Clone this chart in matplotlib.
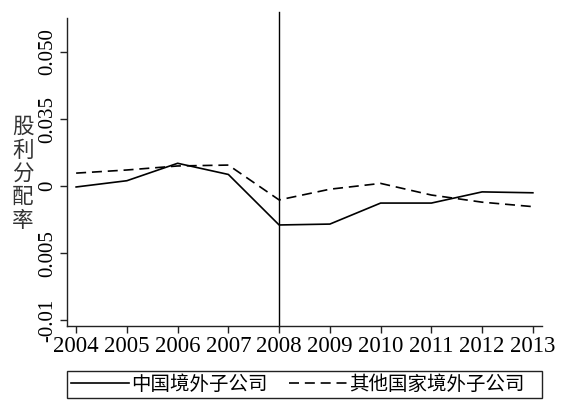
import matplotlib
matplotlib.use("Agg")
import matplotlib.pyplot as plt
from matplotlib.patches import Rectangle

plt.rcParams['font.family'] = ['Liberation Serif', 'Noto Sans CJK SC', 'DejaVu Sans']

years = [2004, 2005, 2006, 2007, 2008, 2009, 2010, 2011, 2012, 2013]
china = [0.0198, 0.0212, 0.0251, 0.0226, 0.0113, 0.0115, 0.0162, 0.0162, 0.0187, 0.0185]
other = [0.0229, 0.0236, 0.0245, 0.0247, 0.0169, 0.0193, 0.0206, 0.0180, 0.0164, 0.0154]

ytick_pos = [0.05, 0.035, 0.02, 0.005, -0.01]
ytick_labels = ['0.050', '0.035', '0', '0.005', '-0.01']
series_names = ['中国境外子公司', '其他国家境外子公司']
ylabel = '股利分配率'

fig = plt.figure(figsize=(5.62, 4.0), dpi=100)
ax = fig.add_axes([67/562, 1 - 326/400, 475/562, 308/400])

l1, = ax.plot(years, china, color='black', lw=1.2, label=series_names[0])
l2, = ax.plot(years, other, color='black', lw=1.2, dashes=(6, 3.5), label=series_names[1])
ax.axvline(2008, ymax=1.02, color='black', lw=1.0, clip_on=False)

ax.set_xlim(2003.82, 2013.18)
ax.set_ylim(-0.0113, 0.0576)
ax.set_xticks(years)
ax.set_xticklabels([str(y) for y in years], fontsize=16.5)
ax.set_yticks(ytick_pos)
ax.set_yticklabels(ytick_labels, fontsize=15, rotation=90, va='center')

for s in ['top', 'right']:
    ax.spines[s].set_visible(False)
for s in ['left', 'bottom']:
    ax.spines[s].set_color('#222222')
    ax.spines[s].set_linewidth(1.0)
ax.tick_params(direction='out', length=5, width=1.0, color='#222222', pad=2)

fig.text(23/562, 1 - 175/400, '\n'.join(ylabel), fontsize=15.5, ha='center', va='center',
         linespacing=1.25, color='#333333')

leg = fig.legend(handles=[l1, l2], loc='center left', bbox_to_anchor=(71/562, 1 - 385/400),
                 ncol=2, frameon=False, fontsize=14, handlelength=3.0, handletextpad=0.1,
                 columnspacing=1.1, borderaxespad=0, borderpad=0)
fig.patches.append(Rectangle((67/562, 1 - 398/400), 475/562, 27/400, transform=fig.transFigure,
                             fill=False, edgecolor='#222222', lw=1.0))

plt.savefig('out.png', dpi=100)
